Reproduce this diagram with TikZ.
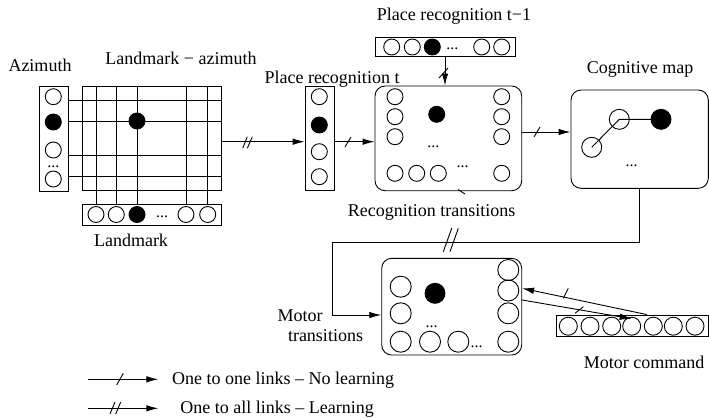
\documentclass[tikz,border=0pt]{standalone}
\usepackage{fontspec}
\setmainfont{Liberation Serif}
\usetikzlibrary{arrows.meta}
\begin{document}
\begin{tikzpicture}[x=1pt,y=-1pt,line width=0.9pt,
  oc/.style={circle,draw,inner sep=0pt,minimum size=16pt},
  fc/.style={oc,fill=black},
  mc/.style={oc,minimum size=21pt},
  cc/.style={oc,minimum size=20pt},
  sc/.style={oc,minimum size=18pt},
  bar/.style={draw,inner sep=0pt},
  rbox/.style={draw,rounded corners=10pt,inner sep=0pt},
  arr/.style={-{Latex[length=12pt,width=6.5pt]}},
  lbl/.style={font=\fontsize{18}{20}\selectfont,inner sep=0pt,anchor=base},
  dotsn/.style={font=\fontsize{16}{16}\selectfont,inner sep=0pt},
]
\useasboundingbox (0,0) rectangle (709,418);

% ---- boxes
\node[bar,minimum width=29pt,minimum height=105pt] (az) at (53.5,138.5) {};
\node[bar,minimum width=139pt,minimum height=104pt] (grid) at (151.5,138) {};
\node[bar,minimum width=139pt,minimum height=21.7pt] (lm) at (151.5,214.85) {};
\node[bar,minimum width=29pt,minimum height=104.7pt] (pt) at (319.5,138.35) {};
\node[rbox,minimum width=146.7pt,minimum height=104.7pt] (rt) at (448.35,138.35) {};
\node[bar,minimum width=140pt,minimum height=18.7pt] (tm1) at (445,46.65) {};
\node[rbox,minimum width=137.3pt,minimum height=98.3pt] (cog) at (639.65,139.15) {};
\node[rbox,minimum width=140pt,minimum height=96.7pt] (mt) at (451.7,306.65) {};
\node[bar,minimum width=151.3pt,minimum height=21.7pt] (mcb) at (632.35,325.85) {};

% ---- grid lines
\foreach \x in {96,116.3,137,186,207.7} \draw (\x,86) -- (\x,204);
\foreach \y in {100,121,155.7,176.7} \draw (68,\y) -- (221,\y);

% ---- azimuth circles
\node[oc] (a1) at (53.3,96.7) {};
\node[fc] (a2) at (53.3,122) {};
\node[oc] (a3) at (53.3,150) {};
\node[oc] (a4) at (53.3,179) {};
\node[dotsn] at (53.3,166.5) {...};
% grid dot
\node[fc] (gd) at (137,121) {};
% landmark circles
\node[oc] (l1) at (96,214.5) {};
\node[oc] (l2) at (116.3,214.5) {};
\node[fc] (l3) at (137,214.5) {};
\node[dotsn] at (162,216.5) {...};
\node[oc] (l4) at (186,214.5) {};
\node[oc] (l5) at (207.7,214.5) {};

% place recognition t
\node[oc] (p1) at (319.3,96.7) {};
\node[fc] (p2) at (319.3,125) {};
\node[oc] (p3) at (319.3,151.7) {};
\node[oc] (p4) at (319.3,176.7) {};

% place recognition t-1
\node[oc] (q1) at (391.7,47) {};
\node[oc] (q2) at (412.3,47) {};
\node[fc] (q3) at (432.3,47) {};
\node[dotsn] at (452.3,48.5) {...};
\node[oc] (q4) at (481.7,47) {};
\node[oc] (q5) at (501.7,47) {};

% recognition transitions
\foreach \y [count=\i] in {96.7,116.7,136.7,173.3} {
  \node[oc] (rl\i) at (395,\y) {};
  \node[oc] (rr\i) at (501.7,\y) {};
}
\node[oc] (rb2) at (416.7,173.3) {};
\node[oc] (rb3) at (438.3,173.3) {};
\node[dotsn] at (462.7,167) {...};
\node[fc] (rf) at (436.7,114.3) {};
\node[dotsn] at (433.3,147) {...};
\draw (458,189.5) -- (465,194);

% cognitive map
\node[cc] (c1) at (619.3,119.3) {};
\node[cc] (c2) at (591.7,147.3) {};
\node[cc,fill=black] (c3) at (661,119.3) {};
\draw (c2.center) -- (c1.center) -- (c3.center);
\node[dotsn] at (631.7,166) {...};

% motor transitions
\node[mc] (ml1) at (400.7,286.7) {};
\node[mc] (ml2) at (400.7,313.3) {};
\node[mc] (ml3) at (400.7,341.7) {};
\node[mc] (mb2) at (430,341.7) {};
\node[mc] (mb3) at (458.3,341.7) {};
\node[dotsn] at (476.7,347) {...};
\node[mc] (mr1) at (508.3,270) {};
\node[mc] (mr2) at (508.3,290.5) {};
\node[mc] (mr3) at (508.3,313.3) {};
\node[mc] (mr4) at (508.3,341.7) {};
\node[mc,fill=black,minimum size=20pt] (mf) at (435,293.3) {};
\node[dotsn] at (431.7,327) {...};

% motor command
\foreach \x [count=\i] in {568.3,590,611.7,631.7,653.3,673.3,695} {
  \node[sc] (k\i) at (\x,326.2) {};
}

% ---- connectors
\draw[arr] ([yshift=-3.7pt]grid.east) -- ([yshift=-3.7pt]grid.east -| pt.west);
\draw[arr] ([yshift=-3.35pt]pt.east) -- ([yshift=-3.35pt]pt.east -| rt.west);
\draw[arr] (tm1.south) -- (tm1.south |- rt.north);
\draw[arr] ([yshift=6.35pt]rt.east) -- ([yshift=6.35pt]rt.east -| cog.west);
\coordinate (turn) at (332.7,242.7);
\draw[arr] (cog.south) |- (turn) |- ([yshift=-8.35pt]mt.west);
\draw[arr] ([xshift=14.35pt]mcb.north) -- ([yshift=18.35pt]mt.east);
\draw[arr] ([yshift=6.65pt]mt.east) -- ([yshift=-2pt]k4.north);

% ---- link marks
\draw (242.7,148.3) -- (247.3,136.7);
\draw (247.3,148.3) -- (252.3,136.7);
\draw (345,147) -- (351,137);
\draw (439,78) -- (448,68);
\draw (534,137) -- (540,127);
\draw (443.3,251.7) -- (451.7,228.3);
\draw (450,251.7) -- (458.3,228.3);
\draw (563.3,298.3) -- (568.3,288.3);
\draw (575,313.3) -- (583.3,306.7);

% ---- legend
\coordinate (la1) at (88,379.3);
\coordinate (lb1) at (158.3,379.3);
\coordinate (la2) at (88,408.3);
\coordinate (lb2) at (158.3,408.3);
\draw[arr] (la1) -- (lb1);
\draw[arr] (la2) -- (lb2);
\draw (116.7,385) -- (123.3,373.3);
\draw (110,414) -- (115,402);
\draw (115.7,414) -- (120.7,402);
\node[lbl,anchor=base west] at (171.7,384.3) {One to one links – No learning};
\node[lbl,anchor=base west] at (180,413.3) {One to all links – Learning};

% ---- labels
\node[lbl] at (40,71.7) {Azimuth};
\node[lbl] at (181,64) {Landmark − azimuth};
\node[lbl] at (131,246) {Landmark};
\node[lbl] at (332,83.3) {Place recognition t};
\node[lbl] at (454,20) {Place recognition t−1};
\node[lbl] at (431.7,216.7) {Recognition transitions};
\node[lbl] at (640,73.3) {Cognitive map};
\node[lbl] at (300,321.7) {Motor};
\node[lbl] at (325.5,341.7) {transitions};
\node[lbl] at (644,368) {Motor command};
\end{tikzpicture}
\end{document}
